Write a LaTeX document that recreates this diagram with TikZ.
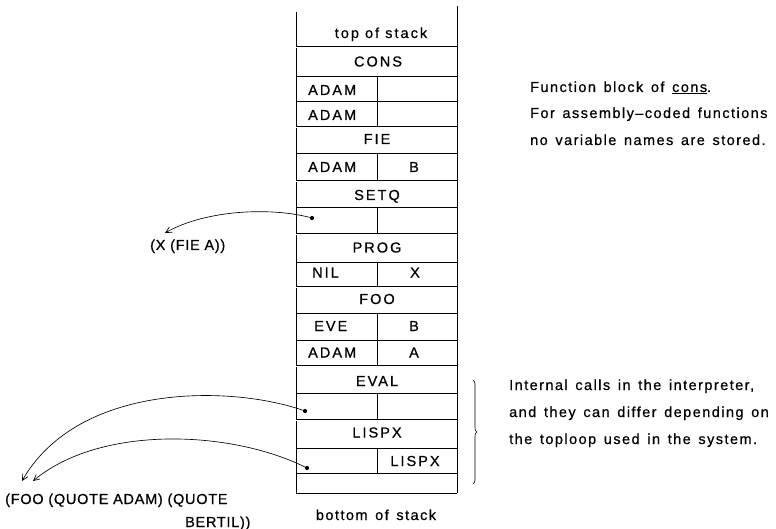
\documentclass[tikz,border=0pt]{standalone}
\usepackage{fontspec}
\setmainfont{Liberation Sans}[LetterSpace=10,FakeBold=0.6,WordSpace=1.4]
\newfontfamily\widefont{Liberation Sans}[LetterSpace=14,FakeBold=0.6]
\newfontfamily\narrowfont{Liberation Sans}[LetterSpace=5,FakeBold=0.6]
\usetikzlibrary{arrows.meta,decorations.pathreplacing}
\begin{document}
\begin{tikzpicture}[x=1pt,y=-1pt,
  every node/.style={font=\fontsize{14.5}{16}\selectfont, inner sep=0pt},
  lbl/.style={anchor=base},
  lblw/.style={anchor=base west},
  wide/.style={font=\fontsize{14.5}{16}\selectfont\widefont},
  narrow/.style={font=\fontsize{14.5}{16}\selectfont\narrowfont},
  gridline/.style={line width=0.7pt},
  blockline/.style={line width=0.55pt, double distance=0.7pt},
  ptrdot/.style={circle, fill, inner sep=0pt, minimum size=4.2pt},
  ptr/.style={line width=0.65pt, -{Straight Barb[length=6pt,width=6pt]}},
]
\useasboundingbox (0,0) rectangle (776,529);

% stack frame
\draw[gridline] (296,12) -- (296,493);
\draw[gridline] (457,6) -- (457,493);
\foreach \yy in {76,101,153,207,262,313,340,393,448,473,493}
  \draw[gridline] (296,\yy) -- (457,\yy);
\foreach \yy in {47,127,181,234,287,366,420}
  \draw[blockline] (296,\yy) -- (457,\yy);
\foreach \ya/\yb in {76/127,153/181,207/234,262/287,313/366,393/420,448/473}
  \draw[gridline] (377.5,\ya) -- (377.5,\yb);

% stack texts
\node[lbl,wide] (topst) at (381,38) {top of stack};
\node[lbl,wide] (cons) at (378,66.5) {CONS};
\node[lblw,wide] (adam1) at (308,95) {ADAM};
\node[lblw,wide] (adam2) at (308,120) {ADAM};
\node[lbl,wide] (fie) at (377,144) {FIE};
\node[lblw,wide] (adam3) at (308,172) {ADAM};
\node[lbl,wide] (b1) at (414,172) {B};
\node[lbl,wide] (setq) at (377,200) {SETQ};
\node[ptrdot] (d1) at (312,218) {};
\node[lbl,wide] (prog) at (377,252.5) {PROG};
\node[lblw,wide] (nil) at (312,277.5) {NIL};
\node[lbl,wide] (x1) at (415,277.5) {X};
\node[lbl,wide] (foo) at (377,304) {FOO};
\node[lblw,wide] (eve) at (314,331) {EVE};
\node[lbl,wide] (b2) at (414,331) {B};
\node[lblw,wide] (adam4) at (308,357.5) {ADAM};
\node[lbl,wide] (a1) at (414,357.5) {A};
\node[lbl,wide] (eval) at (377,386) {EVAL};
\node[ptrdot] (d2) at (305,411) {};
\node[lbl,wide] (lispx1) at (377,437.5) {LISPX};
\node[ptrdot] (d3) at (307,468) {};
\node[lbl,wide] (lispx2) at (415,466) {LISPX};
\node[lbl] (botst) at (376,520) {bottom of stack};

% right comments
\node[lblw] (r1) at (530,92) {Function block of \underline{cons}.};
\node[lblw] (r2) at (530,118) {For assembly–coded functions};
\node[lblw] (r3) at (530,145) {no variable names are stored.};
\draw[line width=0.6pt, decorate, decoration={brace, amplitude=4pt}] (473,380) -- (473,484);
\node[lblw] (s1) at (509,390) {Internal calls in the interpreter,};
\node[lblw] (s2) at (509,417) {and they can differ depending on};
\node[lblw] (s3) at (509,444) {the toploop used in the system.};

% left values
\node[lblw,narrow] (xfie) at (150,250) {(X (FIE A))};
\node[lblw,narrow] (foo1) at (5,504) {(FOO (QUOTE ADAM) (QUOTE};
\node[lblw,narrow] (foo2) at (185,527) {BERTIL))};
\coordinate (t1) at (165,233);
\coordinate (t2) at (22,481);
\coordinate (t3) at (33,481);

\draw[ptr] (d1) .. controls (270,207) and (205,210) .. (t1);
\draw[ptr] (d2) .. controls (230,385) and (78,383) .. (t2);
\draw[ptr] (d3) .. controls (230,430) and (100,425) .. (t3);
\end{tikzpicture}
\end{document}
